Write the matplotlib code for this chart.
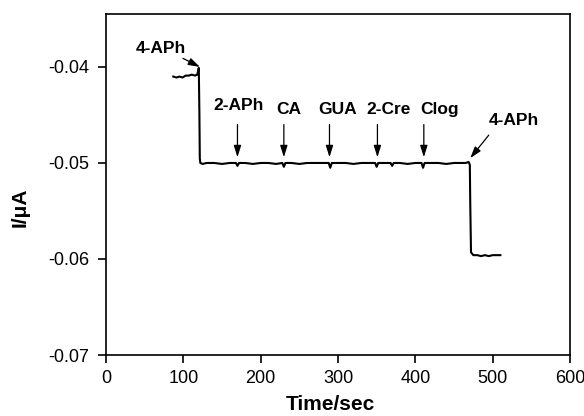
import matplotlib
matplotlib.use("Agg")
import matplotlib.pyplot as plt

plt.rcParams['font.family'] = ['Liberation Sans', 'DejaVu Sans']

time_s = [87, 91, 95, 99, 103, 107, 111, 115, 118, 120, 120.8, 121.3, 122, 125, 130, 140, 150, 160,
          168, 170, 172, 180, 190, 200, 210, 220, 228, 230, 232, 240, 250, 260, 270, 280,
          288, 290, 292, 300, 310, 320, 330, 340, 348, 350, 352, 360, 368, 370, 372, 380,
          390, 400, 408, 410, 412, 420, 430, 440, 450, 460, 465, 469, 470.5, 471, 472, 475,
          480, 485, 490, 495, 500, 505, 510]
current = [-0.0410, -0.0411, -0.0410, -0.0411, -0.0409, -0.0409, -0.0408, -0.0409, -0.0408, -0.0401, -0.0450, -0.0495, -0.0500, -0.0501, -0.0500, -0.0500, -0.0501, -0.0500,
           -0.0500, -0.0503, -0.0500, -0.0500, -0.0501, -0.0500, -0.0500, -0.0501, -0.0500, -0.0504, -0.0500, -0.0500, -0.0501, -0.0500, -0.0500, -0.0500,
           -0.0500, -0.0505, -0.0500, -0.0500, -0.0500, -0.0501, -0.0500, -0.0500, -0.0500, -0.0504, -0.0500, -0.0500, -0.0500, -0.0503, -0.0500, -0.0500,
           -0.0501, -0.0500, -0.0500, -0.0505, -0.0500, -0.0500, -0.0500, -0.0501, -0.0500, -0.0500, -0.0500, -0.0499, -0.0502, -0.0540, -0.0593, -0.0596,
           -0.0596, -0.0597, -0.0596, -0.0597, -0.0596, -0.0596, -0.0596]

arrow_labels = ["2-APh", "CA", "GUA", "2-Cre", "Clog"]
arrow_times = [170, 230, 289, 351, 411]
label_times = [171, 236, 300, 365, 431]
label_levels = [-0.0440, -0.0444, -0.0444, -0.0444, -0.0444]
aph_label = "4-APh"

fig = plt.figure(figsize=(5.84, 4.16), dpi=100)
ax = fig.add_axes([0.1815, 0.1466, 0.7945, 0.8194])
ax.plot(time_s, current, color='black', lw=1.5)

ax.set_xlim(0, 600)
ax.set_ylim(-0.07, -0.0345)
ax.set_xticks([0, 100, 200, 300, 400, 500, 600])
ax.set_yticks([-0.07, -0.06, -0.05, -0.04])
ax.set_yticklabels(["-0.07", "-0.06", "-0.05", "-0.04"])
ax.tick_params(direction='out', length=6, width=1.2, labelsize=13, colors='black')
ax.tick_params(axis='y', pad=6)
ax.tick_params(axis='x', pad=5)
for s in ax.spines.values():
    s.set_linewidth(1.2)

ax.set_xlabel("Time/sec", fontsize=15, fontweight='bold', va='top')
ax.xaxis.set_label_coords(0.483, -0.118)
ax.set_ylabel("I/\u03bcA", fontsize=15, fontweight='bold')
ax.yaxis.set_label_coords(-0.165, 0.434)

astyle = dict(arrowstyle='-|>,head_length=0.7,head_width=0.22', color='black', lw=0.9,
              mutation_scale=10, shrinkA=0, shrinkB=0)
for lab, t, lt, ly in zip(arrow_labels, arrow_times, label_times, label_levels):
    ax.text(lt, ly, lab, ha='center', va='center', fontsize=12.5, fontweight='bold')
    ax.annotate("", xy=(t, -0.0494), xytext=(t, -0.0460), arrowprops=astyle)

ax.text(70.5, -0.0381, aph_label, ha='center', va='center', fontsize=12.5, fontweight='bold')
ax.annotate("", xy=(121.5, -0.0400), xytext=(99.5, -0.0391), arrowprops=astyle)
ax.text(527, -0.0456, aph_label, ha='center', va='center', fontsize=12.5, fontweight='bold')
ax.annotate("", xy=(471, -0.0495), xytext=(495, -0.0471), arrowprops=astyle)

fig.savefig("out.png", dpi=100)
